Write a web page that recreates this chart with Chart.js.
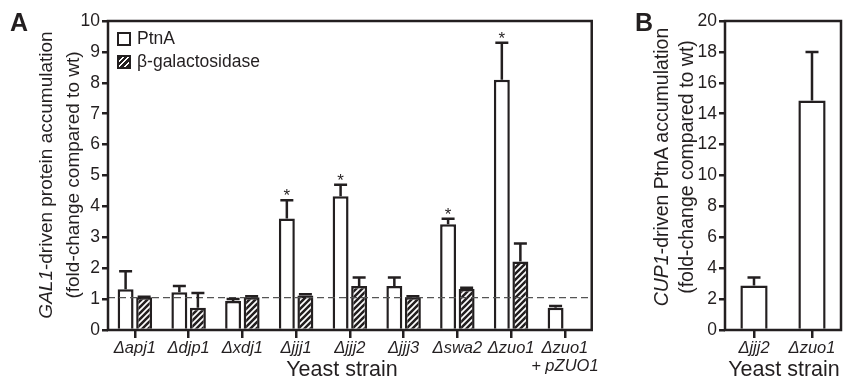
<!DOCTYPE html>
<html>
<head>
<meta charset="utf-8">
<script src="https://cdn.jsdelivr.net/npm/chart.js@4"></script>
<style>
  body { margin: 0; background: #fff; font-family: "Liberation Sans", Arial, sans-serif; color: #231f20; }
  #wrap { position: relative; width: 843px; height: 381px; overflow: hidden; }
  canvas { position: absolute; top: 0; }
  .txt { position: absolute; white-space: nowrap; }
  .panel { font-weight: bold; font-size: 25px; }
  .ytitle { text-align: center; transform: rotate(-90deg); }
  .xtitle { font-size: 21.5px; text-align: center; }
  .leg { font-size: 17.5px; line-height: 17px; }
  .box { position: absolute; width: 10px; height: 10px; border: 2px solid #231f20; background: #fff; }
  .hatch { background: repeating-linear-gradient(-45deg, #231f20 0 2.5px, #fff 2.5px 4px); }
</style>
</head>
<body>
<div id="wrap">
  <canvas id="graficoA" width="600" height="381" style="left:0"></canvas>
  <canvas id="graficoB" width="243" height="381" style="left:600px"></canvas>

  <div class="txt panel" style="left:10px; top:8px">A</div>
  <div class="txt panel" style="left:635px; top:8px">B</div>

  <div class="txt ytitle" style="font-size:19px; line-height:27px; width:340px; height:54px; left:-111px; top:148px">
    <i>GAL1</i>-driven protein accumulation<br>(fold-change compared to wt)
  </div>
  <div class="txt ytitle" style="font-size:19.5px; line-height:25px; width:320px; height:50px; left:514px; top:142px">
    <i>CUP1</i>-driven PtnA accumulation<br>(fold-change compared to wt)
  </div>

  <div class="txt xtitle" style="left:242px; top:357px; width:200px">Yeast strain</div>
  <div class="txt xtitle" style="left:725px; top:357px; width:118px">Yeast strain</div>

  <div class="box" style="left:117px; top:32px"></div>
  <div class="txt leg" style="left:137px; top:30px">PtnA</div>
  <div class="box hatch" style="left:117px; top:55px"></div>
  <div class="txt leg" style="left:137px; top:53px">&beta;-galactosidase</div>
</div>

<script>
const estirpesA = [
  "Δapj1", "Δdjp1", "Δxdj1", "Δjjj1", "Δjjj2",
  "Δjjj3", "Δswa2", "Δzuo1", ["Δzuo1", "+ pZUO1"]
];
const ptnA = [1.32, 1.22, 0.94, 3.61, 4.33, 1.42, 3.42, 8.1, 0.72];
const ptnAErro = [1.9, 1.42, 1.0, 4.2, 4.7, 1.7, 3.6, 9.3, 0.78];
const betaGal = [1.06, 0.72, 1.06, 1.12, 1.42, 1.06, 1.33, 2.22, null];
const betaGalErro = [1.08, 1.2, 1.09, 1.16, 1.7, 1.09, 1.37, 2.8, null];
const asteriscosA = [false, false, false, true, true, false, true, true, false];
const linhaReferencia = 1.05;

const estirpesB = ["Δjjj2", "Δzuo1"];
const ptnB = [2.88, 14.85];
const ptnBErro = [3.4, 18.0];

const corTinta = "#231f20";
const fonte = "'Liberation Sans', Arial, sans-serif";

function criarHachura() {
  const c = document.createElement("canvas");
  c.width = 6;
  c.height = 6;
  const g = c.getContext("2d");
  g.fillStyle = corTinta;
  g.fillRect(0, 0, 6, 6);
  g.strokeStyle = "#fff";
  g.lineWidth = 1.7;
  g.beginPath();
  g.moveTo(-1, 7); g.lineTo(7, -1);
  g.moveTo(-1, 1); g.lineTo(1, -1);
  g.moveTo(5, 7); g.lineTo(7, 5);
  g.stroke();
  return g.createPattern(c, "repeat");
}

// error bars, asterisks, reference line and the frame
const extras = {
  id: "extras",
  afterDatasetsDraw(chart, args, opts) {
    const ctx = chart.ctx;
    const area = chart.chartArea;
    const y = chart.scales.y;
    ctx.save();

    if (opts.referencia != null) {
      ctx.strokeStyle = "#555";
      ctx.lineWidth = 1.2;
      ctx.setLineDash([7, 4]);
      const yr = y.getPixelForValue(opts.referencia);
      ctx.beginPath();
      ctx.moveTo(area.left, yr);
      ctx.lineTo(area.right, yr);
      ctx.stroke();
      ctx.setLineDash([]);
    }

    ctx.strokeStyle = corTinta;
    ctx.lineWidth = 2.5;
    opts.erros.forEach((erros, i) => {
      const meta = chart.getDatasetMeta(i);
      meta.data.forEach((bar, j) => {
        if (erros[j] == null) return;
        const topo = y.getPixelForValue(erros[j]);
        ctx.beginPath();
        ctx.moveTo(bar.x, bar.y);
        ctx.lineTo(bar.x, topo);
        ctx.moveTo(bar.x - opts.cap, topo);
        ctx.lineTo(bar.x + opts.cap, topo);
        ctx.stroke();
        if (opts.asteriscos && i === 0 && opts.asteriscos[j]) {
          ctx.fillStyle = corTinta;
          ctx.font = "17px " + fonte;
          ctx.textAlign = "center";
          ctx.fillText("*", bar.x, topo + 1);
        }
      });
    });

    ctx.lineWidth = 2.5;
    ctx.strokeRect(area.left, area.top, area.right - area.left, area.bottom - area.top);
    ctx.restore();
  }
};

function opcoesEixos(max, passo, larguraY) {
  return {
    x: {
      offset: true,
      border: { display: false },
      grid: { display: true, offset: false, drawOnChartArea: false, drawTicks: true,
              tickLength: 8, color: corTinta, lineWidth: 2.5 },
      ticks: { color: corTinta, font: { family: fonte, size: 16.5, style: "italic", lineHeight: 1.1 },
               autoSkip: false, maxRotation: 0, padding: 1 },
      afterFit(scale) { scale.height = 51; }
    },
    y: {
      min: 0, max: max,
      border: { display: false },
      grid: { display: true, drawOnChartArea: false, drawTicks: true,
              tickLength: 6, color: corTinta, lineWidth: 2.5 },
      ticks: { stepSize: passo, color: corTinta, font: { family: fonte, size: 17.5 }, padding: 2 },
      afterFit(scale) { scale.width = larguraY; }
    }
  };
}

const graficoA = new Chart(document.getElementById("graficoA"), {
  type: "bar",
  data: {
    labels: estirpesA,
    datasets: [
      {
        label: "PtnA",
        data: ptnA,
        backgroundColor: "#fff",
        borderColor: corTinta,
        borderWidth: 2.5,
        barPercentage: 0.86,
        categoryPercentage: 0.69
      },
      {
        label: "β-galactosidase",
        data: betaGal,
        backgroundColor: criarHachura(),
        borderColor: corTinta,
        borderWidth: 2.5,
        barPercentage: 0.86,
        categoryPercentage: 0.69
      }
    ]
  },
  options: {
    responsive: false,
    animation: false,
    layout: { padding: { left: 0, right: 8, top: 21, bottom: 0 } },
    plugins: {
      legend: { display: false },
      tooltip: { enabled: false },
      extras: { erros: [ptnAErro, betaGalErro], cap: 6.5, asteriscos: asteriscosA, referencia: linhaReferencia }
    },
    scales: opcoesEixos(10, 1, 108)
  },
  plugins: [extras]
});

const graficoB = new Chart(document.getElementById("graficoB"), {
  type: "bar",
  data: {
    labels: estirpesB,
    datasets: [
      {
        label: "PtnA",
        data: ptnB,
        backgroundColor: "#fff",
        borderColor: corTinta,
        borderWidth: 2.5,
        barPercentage: 1,
        categoryPercentage: 0.47
      }
    ]
  },
  options: {
    responsive: false,
    animation: false,
    layout: { padding: { left: 0, right: 2, top: 21, bottom: 0 } },
    plugins: {
      legend: { display: false },
      tooltip: { enabled: false },
      extras: { erros: [ptnBErro], cap: 6.5, referencia: null }
    },
    scales: opcoesEixos(20, 2, 125)
  },
  plugins: [extras]
});
</script>
</body>
</html>
